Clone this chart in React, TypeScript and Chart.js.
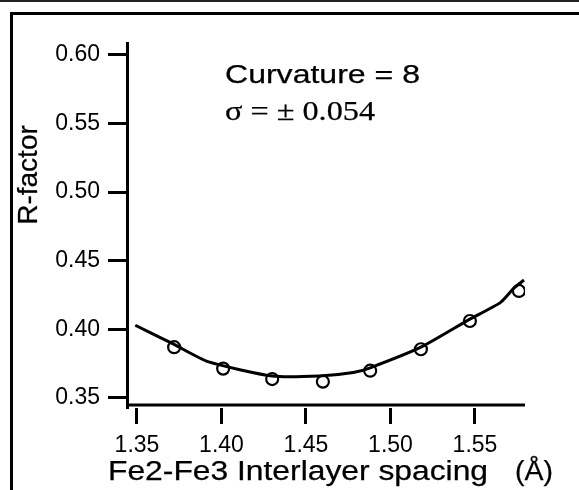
import React, { useEffect, useRef } from "react";
import { Chart, registerables } from "chart.js";

Chart.register(...registerables);

// ---- data ----
const xTicks = [1.35, 1.4, 1.45, 1.5, 1.55];
const yTicks = [0.35, 0.4, 0.45, 0.5, 0.55, 0.6];

const pointX = [1.372, 1.401, 1.43, 1.46, 1.488, 1.518, 1.547, 1.576];
const pointY = [0.387, 0.3714, 0.3638, 0.3619, 0.3699, 0.3855, 0.4061, 0.428];

const fitX = [1.349, 1.372, 1.392, 1.43, 1.458, 1.478, 1.488, 1.518, 1.547, 1.565, 1.573, 1.579];
const fitY = [0.403, 0.389, 0.3765, 0.366, 0.366, 0.3685, 0.372, 0.387, 0.4075, 0.4195, 0.43, 0.436];

const xTitle = "Fe2-Fe3 Interlayer spacing";
const xUnit = "(Å)";
const yTitle = "R-factor";
const note1 = "Curvature = 8";
const note2 = "σ = ± 0.054";

const SANS = "'Liberation Sans', Arial, Helvetica, sans-serif";
const SERIF = "'Liberation Serif', 'Times New Roman', serif";
const TEXT_STROKE = 0.25;

const textPlugin = {
  id: "figureTexts",
  afterDraw(chart: any) {
    const ctx: CanvasRenderingContext2D = chart.ctx;
    const { left, right, bottom } = chart.chartArea;
    const drawStretched = (text: string, x: number, y: number, font: string, width: number) => {
      ctx.save();
      ctx.font = font;
      ctx.textAlign = "left";
      ctx.textBaseline = "alphabetic";
      ctx.fillStyle = "#000";
      ctx.strokeStyle = "#000";
      ctx.lineWidth = TEXT_STROKE;
      const w = ctx.measureText(text).width;
      ctx.translate(x, y);
      ctx.scale(width / w, 1);
      ctx.fillText(text, 0, 0);
      ctx.strokeText(text, 0, 0);
      ctx.restore();
    };
    // x axis line (detached from the tick marks)
    ctx.save();
    ctx.strokeStyle = "#000";
    ctx.lineWidth = 3;
    ctx.beginPath();
    ctx.moveTo(left - 1, bottom - 3);
    ctx.lineTo(right, bottom - 3);
    ctx.stroke();
    ctx.restore();

    drawStretched(note1, 225, 83, "26px " + SANS, 195);
    drawStretched(note2, 225, 120, "28px " + SERIF, 150);
    drawStretched(xTitle, 108, 480, "27px " + SANS, 380);
    drawStretched(xUnit, 515, 480, "27px " + SANS, 38);

    ctx.save();
    ctx.font = "28px " + SANS;
    ctx.fillStyle = "#000";
    ctx.strokeStyle = "#000";
    ctx.lineWidth = TEXT_STROKE;
    ctx.translate(37, 175);
    ctx.rotate(-Math.PI / 2);
    ctx.textAlign = "center";
    ctx.textBaseline = "alphabetic";
    ctx.fillText(yTitle, 0, 0);
    ctx.strokeText(yTitle, 0, 0);
    ctx.restore();
  },
};

export default function App() {
  const ref = useRef<HTMLCanvasElement | null>(null);

  useEffect(() => {
    if (!ref.current) return;
    const chart = new Chart(ref.current, {
      type: "scatter",
      data: {
        datasets: [
          {
            type: "line",
            data: fitX.map((x, i) => ({ x, y: fitY[i] })),
            borderColor: "#000",
            borderWidth: 3,
            pointRadius: 0,
            tension: 0.2,
            fill: false,
          },
          {
            type: "scatter",
            data: pointX.map((x, i) => ({ x, y: pointY[i] })),
            pointRadius: 6,
            pointBorderWidth: 2.2,
            pointBorderColor: "#000",
            pointBackgroundColor: "#fff",
            showLine: false,
          },
        ],
      } as any,
      options: {
        animation: false,
        responsive: false,
        events: [],
        layout: { padding: { top: 43, right: 54, left: 0, bottom: 0 } },
        plugins: { legend: { display: false }, tooltip: { enabled: false }, title: { display: false } },
        scales: {
          x: {
            type: "linear",
            min: 1.3441,
            max: 1.5796,
            afterFit: (s: any) => {
              s.height = 82;
            },
            afterBuildTicks: (s: any) => {
              s.ticks = xTicks.map((v) => ({ value: v }));
            },
            border: { display: false },
            grid: {
              drawOnChartArea: false,
              drawTicks: true,
              tickLength: 16,
              tickWidth: 3,
              tickColor: "#000",
              color: "#000",
            },
            ticks: {
              color: "#000",
              padding: 8,
              maxRotation: 0,
              font: { family: SANS, size: 23 },
              callback: (v: any) => Number(v).toFixed(2),
            },
          },
          y: {
            type: "linear",
            min: 0.3427,
            max: 0.6087,
            afterFit: (s: any) => {
              s.width = 127;
            },
            afterBuildTicks: (s: any) => {
              s.ticks = yTicks.map((v) => ({ value: v }));
            },
            border: { display: true, color: "#000", width: 3 },
            grid: {
              drawOnChartArea: false,
              drawTicks: true,
              tickLength: 19,
              tickWidth: 3,
              tickColor: "#000",
              color: "#000",
            },
            ticks: {
              color: "#000",
              padding: 8,
              font: { family: SANS, size: 23 },
              callback: (v: any) => Number(v).toFixed(2),
            },
          },
        },
      } as any,
      plugins: [textPlugin],
    });
    return () => chart.destroy();
  }, []);

  return (
    <div style={{ position: "fixed", left: 0, top: 0, width: 579, height: 490, background: "#fff", overflow: "hidden" }}>
      <div style={{ position: "absolute", left: 0, top: 0, width: 579, height: 2, background: "#222" }} />
      <div
        style={{
          position: "absolute",
          left: 10,
          top: 12,
          width: 600,
          height: 500,
          borderTop: "3px solid #000",
          borderLeft: "3px solid #000",
          boxSizing: "border-box",
        }}
      />
      <canvas ref={ref} width={579} height={490} style={{ position: "absolute", left: 0, top: 0, display: "block" }} />
    </div>
  );
}
